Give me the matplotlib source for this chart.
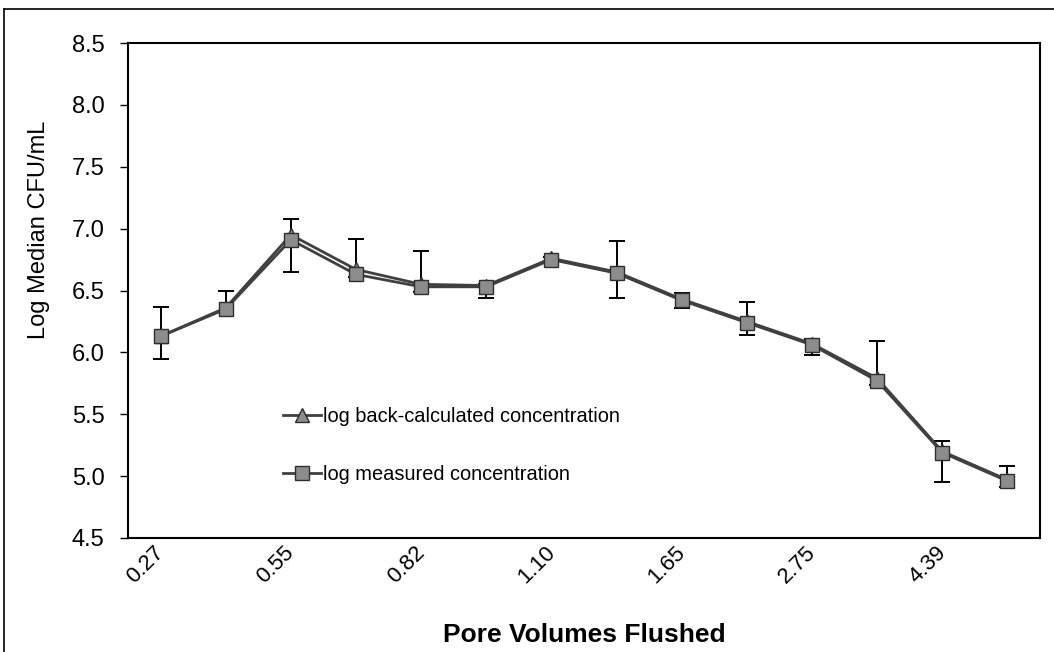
import matplotlib
matplotlib.use("Agg")
import matplotlib.pyplot as plt
import matplotlib.transforms as mtransforms
import numpy as np
from matplotlib.lines import Line2D

plt.rcParams["font.family"] = ["Liberation Sans", "DejaVu Sans"]

# pore volume labels shown under every second sample
x_labels = ["0.27", "0.55", "0.82", "1.10", "1.65", "2.75", "4.39"]
n_samples = 14

back_calc = [6.13, 6.36, 6.95, 6.67, 6.55, 6.54, 6.76, 6.65, 6.43, 6.25, 6.07, 5.79, 5.20, 4.97]
measured = [6.13, 6.35, 6.91, 6.63, 6.53, 6.53, 6.75, 6.64, 6.42, 6.24, 6.06, 5.77, 5.19, 4.96]
meas_hi = [6.37, 6.50, 7.08, 6.92, 6.82, 6.55, 6.77, 6.90, 6.48, 6.41, 6.11, 6.09, 5.28, 5.08]
meas_lo = [5.95, 6.33, 6.65, 6.61, 6.49, 6.44, 6.73, 6.44, 6.36, 6.14, 5.98, 5.74, 4.95, 4.91]

y_ticks = [4.5, 5.0, 5.5, 6.0, 6.5, 7.0, 7.5, 8.0, 8.5]

x = np.arange(n_samples)
meas = np.array(measured)
yerr = [meas - np.array(meas_lo), np.array(meas_hi) - meas]

fig = plt.figure(figsize=(10.54, 6.52), dpi=100)
ax = fig.add_axes([128 / 1054, 114 / 652, 912 / 1054, 495 / 652])

line_col = "#404040"
face_col = "#8c8c8c"
edge_col = "#2e2e2e"

ax.errorbar(x, meas, yerr=yerr, fmt="none", ecolor="black", elinewidth=1.4,
            capsize=5.5, capthick=1.4, zorder=2)
ax.plot(x, back_calc, color=line_col, lw=2.0, marker="^", ms=10.5,
        mfc=face_col, mec=edge_col, mew=1.0, zorder=3)
ax.plot(x, measured, color=line_col, lw=2.0, marker="s", ms=9.5,
        mfc=face_col, mec=edge_col, mew=1.0, zorder=4)

ax.set_xlim(-0.5, n_samples - 0.5)
ax.set_ylim(4.5, 8.5)
ax.set_yticks(y_ticks)
ax.set_yticklabels([f"{v:.1f}" for v in y_ticks], fontsize=17)
ax.tick_params(axis="y", direction="out", length=6, width=1, pad=11)

ax.set_xticks(x[::2])
ax.set_xticklabels(x_labels, rotation=45, ha="right", va="top",
                   rotation_mode="anchor", fontsize=16)
ax.tick_params(axis="x", length=0, pad=3)
shift = mtransforms.ScaledTranslation(-7 / 100, 0, fig.dpi_scale_trans)
for lbl in ax.get_xticklabels():
    lbl.set_transform(lbl.get_transform() + shift)

for sp in ax.spines.values():
    sp.set_linewidth(1.5)
    sp.set_color("black")

ax.set_ylabel("Log Median CFU/mL", fontsize=17)
ax.yaxis.set_label_coords(-0.085, 0.622)
ax.set_xlabel("Pore Volumes Flushed", fontsize=19, fontweight="bold")
ax.xaxis.set_label_coords(0.5, -0.171)

handles = [
    Line2D([], [], color=line_col, lw=2.0, marker="^", ms=10.5,
           mfc=face_col, mec=edge_col),
    Line2D([], [], color=line_col, lw=2.0, marker="s", ms=9.5,
           mfc=face_col, mec=edge_col),
]
ax.legend(handles, ["log back-calculated concentration", "log measured concentration"],
          loc="upper left", bbox_to_anchor=(0.1616, 0.281), frameon=False,
          fontsize=14.4, handlelength=1.9, handletextpad=0.1, labelspacing=1.95,
          borderaxespad=0)

# outer chart border (left and top edges)
fig.add_artist(Line2D([4 / 1054, 4 / 1054], [0, 1 - 9 / 652], color="black", lw=1.2))
fig.add_artist(Line2D([4 / 1054, 1], [1 - 9 / 652, 1 - 9 / 652], color="black", lw=1.2))

fig.savefig("out.png", dpi=100, facecolor="white")
